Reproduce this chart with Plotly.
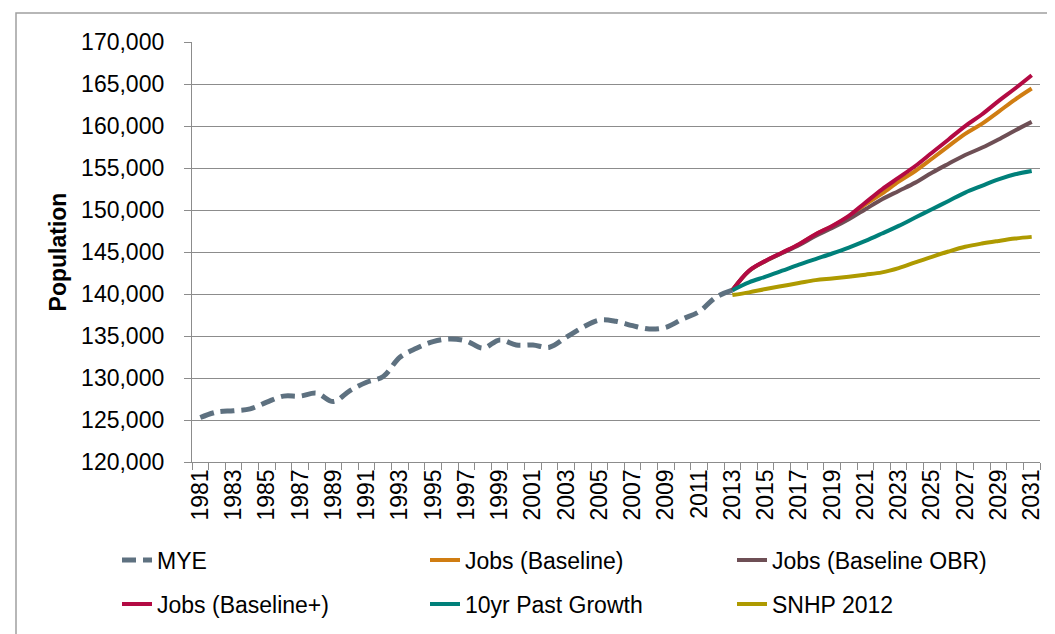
import plotly.graph_objects as go

mye_years = list(range(1981, 2014))
mye = [125300, 125950, 126100, 126330, 127130, 127840, 127840, 128190, 127200, 128500,
       129500, 130180, 132470, 133540, 134330, 134650, 134400, 133550, 134530, 133930,
       133930, 133660, 134850, 136030, 136900, 136750, 136230, 135830, 136030, 137020,
       137890, 139600, 140450]

proj_years = list(range(2013, 2032))
jobs_baseline = [140450, 142740, 143930, 144910, 145900, 147090, 148070, 149220, 150680, 151950,
                 153370, 154640, 156100, 157600, 159070, 160260, 161690, 163150, 164460]
jobs_obr = [140450, 142740, 143930, 144880, 145800, 146900, 147850, 148900, 150090, 151280,
            152270, 153260, 154440, 155510, 156540, 157410, 158400, 159470, 160490]
jobs_plus = [140450, 142770, 143960, 144940, 145930, 147120, 148110, 149300, 150880, 152460,
             153850, 155240, 156820, 158400, 159990, 161370, 162960, 164460, 166040]
past_growth = [140450, 141390, 142060, 142770, 143490, 144160, 144820, 145530, 146320, 147200,
               148110, 149100, 150090, 151080, 152070, 152870, 153650, 154250, 154640]
snhp_2012 = [139870, 140190, 140590, 140950, 141300, 141650, 141850, 142060, 142300, 142570,
             143080, 143760, 144430, 145060, 145620, 146010, 146320, 146600, 146800]

x_tick_years = list(range(1981, 2032, 2))
x_tick_labels = [str(y) for y in x_tick_years]
y_ticks = list(range(120000, 170001, 5000))

FONT = "Liberation Sans, Arial, sans-serif"
FS = 23
fig = go.Figure()

series = [
    ("MYE", mye_years, mye, dict(color="#5E7180", width=5, dash="14px,7px"), "legend"),
    ("Jobs (Baseline)", proj_years, jobs_baseline, dict(color="#D07D12", width=4), "legend2"),
    ("Jobs (Baseline OBR)", proj_years, jobs_obr, dict(color="#6E4F55", width=4), "legend3"),
    ("Jobs (Baseline+)", proj_years, jobs_plus, dict(color="#B30A43", width=4), "legend4"),
    ("10yr Past Growth", proj_years, past_growth, dict(color="#00807A", width=4), "legend5"),
    ("SNHP 2012", proj_years, snhp_2012, dict(color="#AE9A00", width=4), "legend6"),
]
for name, xs, ys, ln, lg in series:
    fig.add_trace(go.Scatter(x=xs, y=ys, name=name, mode="lines", showlegend=True,
                             line=dict(shape="spline", smoothing=1, **ln), legend=lg))

grid = "#8C8C8C"
legend_common = dict(orientation="h", xref="container", yref="container",
                     xanchor="left", yanchor="middle",
                     font=dict(family=FONT, size=FS, color="#000000"),
                     bgcolor="rgba(0,0,0,0)", itemwidth=30)
col_x = [109, 417, 724]
row_y = [552, 596]
legends = {}
names = ["legend", "legend2", "legend3", "legend4", "legend5", "legend6"]
for i, key in enumerate(names):
    legends[key] = dict(x=col_x[i % 3] / 1055, y=1 - row_y[i // 3] / 634, **legend_common)

fig.update_layout(
    width=1055, height=634, showlegend=True,
    margin=dict(l=184, r=23, t=34, b=180, autoexpand=False),
    paper_bgcolor="white", plot_bgcolor="white",
    font=dict(family=FONT, size=FS, color="#000000"),
    xaxis=dict(
        range=[1980.5, 2031.5], tickmode="array", tickvals=x_tick_years, ticktext=x_tick_labels,
        tickangle=-90, ticks="outside", ticklen=0, showgrid=False, zeroline=False,
        showline=True, linecolor=grid, linewidth=1.3,
        ticklabelstandoff=-3,
        minor=dict(tick0=1980.5, dtick=1, ticks="outside", ticklen=7, tickcolor=grid, tickwidth=1.3, showgrid=False),
        tickfont=dict(family=FONT, size=FS, color="#000000"),
    ),
    yaxis=dict(
        range=[120000, 170000], tickmode="array", tickvals=y_ticks, tickformat=",d",
        ticks="outside", ticklen=7, tickcolor=grid, tickwidth=1.3,
        showgrid=True, gridcolor=grid, gridwidth=1.3, zeroline=False,
        showline=True, linecolor=grid, linewidth=1.3,
        ticklabelstandoff=15,
        tickfont=dict(family=FONT, size=FS, color="#000000"),
        title=dict(text="<b>Population</b>", font=dict(family=FONT, size=FS, color="#000000"), standoff=8),
    ),
    shapes=[dict(type="rect", xref="paper", yref="paper",
                 x0=(8 - 184) / 848, x1=(1062 - 184) / 848,
                 y0=(454 - 645) / 420, y1=(454 - 5) / 420,
                 line=dict(color="#A0A0A0", width=1.5), fillcolor="rgba(0,0,0,0)", layer="below")],
    **legends,
)

fig.write_html("out.html")
